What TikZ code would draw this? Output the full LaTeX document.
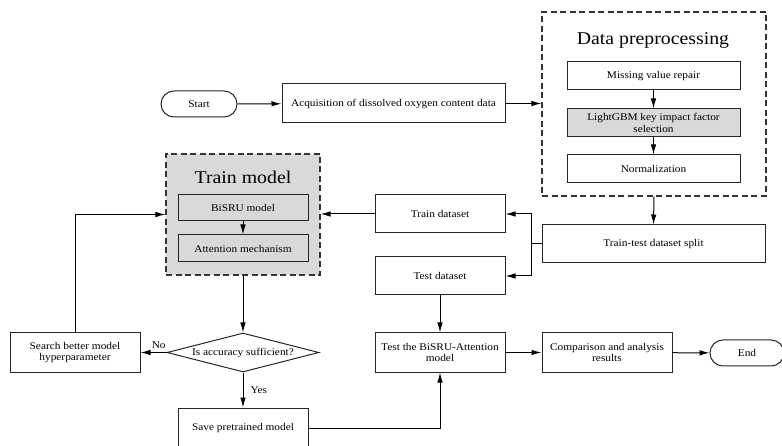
\documentclass[tikz,border=0pt]{standalone}
\usepackage{fontspec}
\setmainfont{Liberation Serif}
\newfontfamily\boxfont{Liberation Serif}[FakeStretch=1.1]
\usetikzlibrary{shapes.misc,shapes.geometric,arrows.meta}
\definecolor{boxgray}{HTML}{D9D9D9}
\tikzset{
  base/.style={draw=black!85, line width=1pt, align=center, inner sep=1pt,
    font=\boxfont\fontsize{10.3}{11.8}\selectfont},
  rbox/.style={base, rectangle, minimum width=130pt, minimum height=39pt},
  gbox/.style={rbox, fill=boxgray},
  pill/.style={base, rounded rectangle, minimum width=78pt, minimum height=26pt},
  groupbox/.style={draw=black!80, line width=1.1pt, dash pattern=on 6pt off 3.5pt},
  title/.style={font=\boxfont\fontsize{18}{20}\selectfont},
  arr/.style={line width=1pt, -{Latex[length=10pt,width=5.5pt]}},
  lbl/.style={font=\boxfont\fontsize{10.3}{11.8}\selectfont, inner sep=1pt}
}
\begin{document}
\begin{tikzpicture}[x=1pt,y=-1pt]
\useasboundingbox (0,0) rectangle (782,446);
% groups
\node[groupbox, fill=white, minimum width=224pt, minimum height=184pt] (dp) at (654,104) {};
\node[title] (dpt) at (653,40) {Data preprocessing};
\node[groupbox, fill=boxgray, minimum width=154pt, minimum height=121pt] (tm) at (243,214.5) {};
\node[title] (tmt) at (243,177) {Train model};
% nodes
\node[pill] (start) at (199,104) {Start};
\node[rbox, minimum width=223pt] (acq) at (393.5,103.5) {Acquisition of dissolved oxygen content data};
\node[rbox, minimum width=173pt, minimum height=28pt] (mvr) at (653.5,76) {Missing value repair};
\node[gbox, minimum width=173pt, minimum height=28pt] (lgbm) at (653.5,123) {LightGBM key impact factor\\selection};
\node[rbox, minimum width=173pt, minimum height=28pt] (norm) at (653.5,169) {Normalization};
\node[rbox, minimum width=223pt, minimum height=38pt] (split) at (653.5,244) {Train-test dataset split};
\node[rbox, minimum height=38pt] (train) at (440,214) {Train dataset};
\node[rbox, minimum height=38pt] (test) at (440,276) {Test dataset};
\node[gbox, minimum height=26pt] (bisru) at (243,208) {BiSRU model};
\node[gbox, minimum height=27pt] (att) at (243,248.5) {Attention mechanism};
\node[base, diamond, minimum width=152pt, minimum height=39pt, inner sep=0pt, aspect=3.9] (dec) at (243,352.5) {Is accuracy sufficient?};
\node[rbox] (search) at (75,352.5) {Search better model\\hyperparameter};
\node[rbox, minimum height=40pt] (save) at (243,428) {Save pretrained model};
\node[rbox] (testm) at (440,352.5) {Test the BiSRU-Attention\\model};
\node[rbox] (comp) at (607,352.5) {Comparison and analysis\\results};
\node[pill, minimum width=76pt] (end) at (747,353) {End};
\coordinate (fork) at (531,244);
% connectors
\draw[arr] (start) -- (acq);
\draw[arr] (acq.east) -- (acq.east -| dp.west);
\draw[arr] (mvr) -- (lgbm);
\draw[arr] (lgbm) -- (norm);
\draw[arr] (dp.south) -- (split.north);
\draw[line width=1pt] (split.west) -- (fork);
\draw[arr] (fork) |- (train.east);
\draw[arr] (fork) |- (test.east);
\draw[arr] (train.west) -- (train.west -| tm.east);
\draw[arr] (bisru) -- (att);
\draw[arr] (tm.south) -- (dec.north);
\draw[arr] (dec.west) -- (search.east) node[lbl, pos=0.3, above=2pt] {No};
\draw[arr] (search.north) |- (tm.west);
\draw[arr] (dec.south) -- (save.north) node[lbl, midway, right=6pt] {Yes};
\draw[arr] (save.east) -| (testm.south);
\draw[arr] (test) -- (testm);
\draw[arr] (testm) -- (comp);
\draw[arr] (comp) -- (end);
\end{tikzpicture}
\end{document}
